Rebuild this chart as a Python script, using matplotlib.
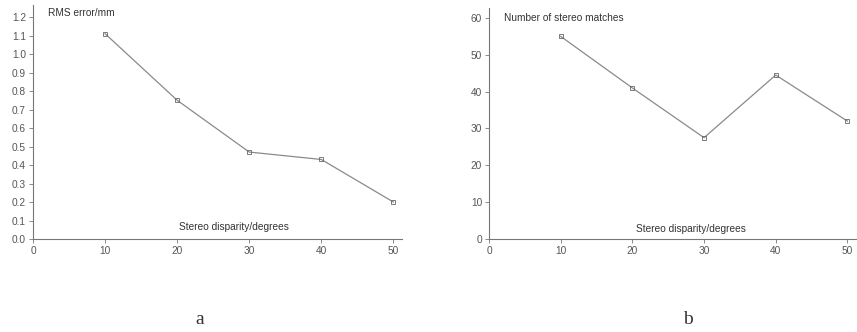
import matplotlib.pyplot as plt

# disparity angles (degrees)
disparity = [10, 20, 30, 40, 50]
# panel a: RMS error in mm
rms_error = [1.11, 0.75, 0.47, 0.43, 0.20]
# panel b: number of stereo matches
n_matches = [55, 41, 27.5, 44.5, 32]

plt.rcParams['font.family'] = ['Liberation Sans', 'DejaVu Sans']
grey = '#555555'


def style_axes(ax):
    """Only left/bottom spines, thin grey, small outward ticks"""
    ax.spines['top'].set_visible(False)
    ax.spines['right'].set_visible(False)
    for s in ('left', 'bottom'):
        ax.spines[s].set_color('#777777')
        ax.spines[s].set_linewidth(0.8)
    ax.tick_params(direction='out', length=3, width=0.6, colors='#777777',
                   labelcolor=grey, labelsize=7.3, pad=2)
    ax.set_xlim(0, 51.2)
    ax.set_xticks([0, 10, 20, 30, 40, 50])


fig = plt.figure(figsize=(8.57, 3.32), dpi=100)

# panel a
ax1 = fig.add_axes([33 / 857, 1 - 239 / 332, 369 / 857, 234 / 332])
style_axes(ax1)
ax1.set_ylim(0, 1.265)
ax1.set_yticks([i / 10 for i in range(13)])
ax1.set_yticklabels([f'{i / 10:.1f}' for i in range(13)])
ax1.plot(disparity, rms_error, color='#8a8a8a', lw=0.9, marker='s', ms=3,
         mfc='none', mec='#666666', mew=0.6)
ax1.text(0.04, 0.965, 'RMS error/mm', transform=ax1.transAxes, fontsize=7.3,
         color='#333333', va='center')
ax1.text(0.545, 0.05, 'Stereo disparity/degrees', transform=ax1.transAxes,
         fontsize=7.3, color='#333333', ha='center', va='center')

# panel b
ax2 = fig.add_axes([489 / 857, 1 - 239 / 332, 367 / 857, 231 / 332])
style_axes(ax2)
ax2.set_ylim(0, 62.7)
ax2.set_yticks([0, 10, 20, 30, 40, 50, 60])
ax2.plot(disparity, n_matches, color='#8a8a8a', lw=0.9, marker='s', ms=3,
         mfc='none', mec='#666666', mew=0.6)
ax2.text(0.04, 0.955, 'Number of stereo matches', transform=ax2.transAxes,
         fontsize=7.3, color='#333333', va='center')
ax2.text(0.55, 0.045, 'Stereo disparity/degrees', transform=ax2.transAxes,
         fontsize=7.3, color='#333333', ha='center', va='center')

# subfigure letters
fig.text(200 / 857, 1 - 320 / 332, 'a', fontsize=14, family='Liberation Serif',
         color='#333333', ha='center', va='center')
fig.text(688 / 857, 1 - 320 / 332, 'b', fontsize=14, family='Liberation Serif',
         color='#333333', ha='center', va='center')

plt.savefig('out.png', dpi=100)
